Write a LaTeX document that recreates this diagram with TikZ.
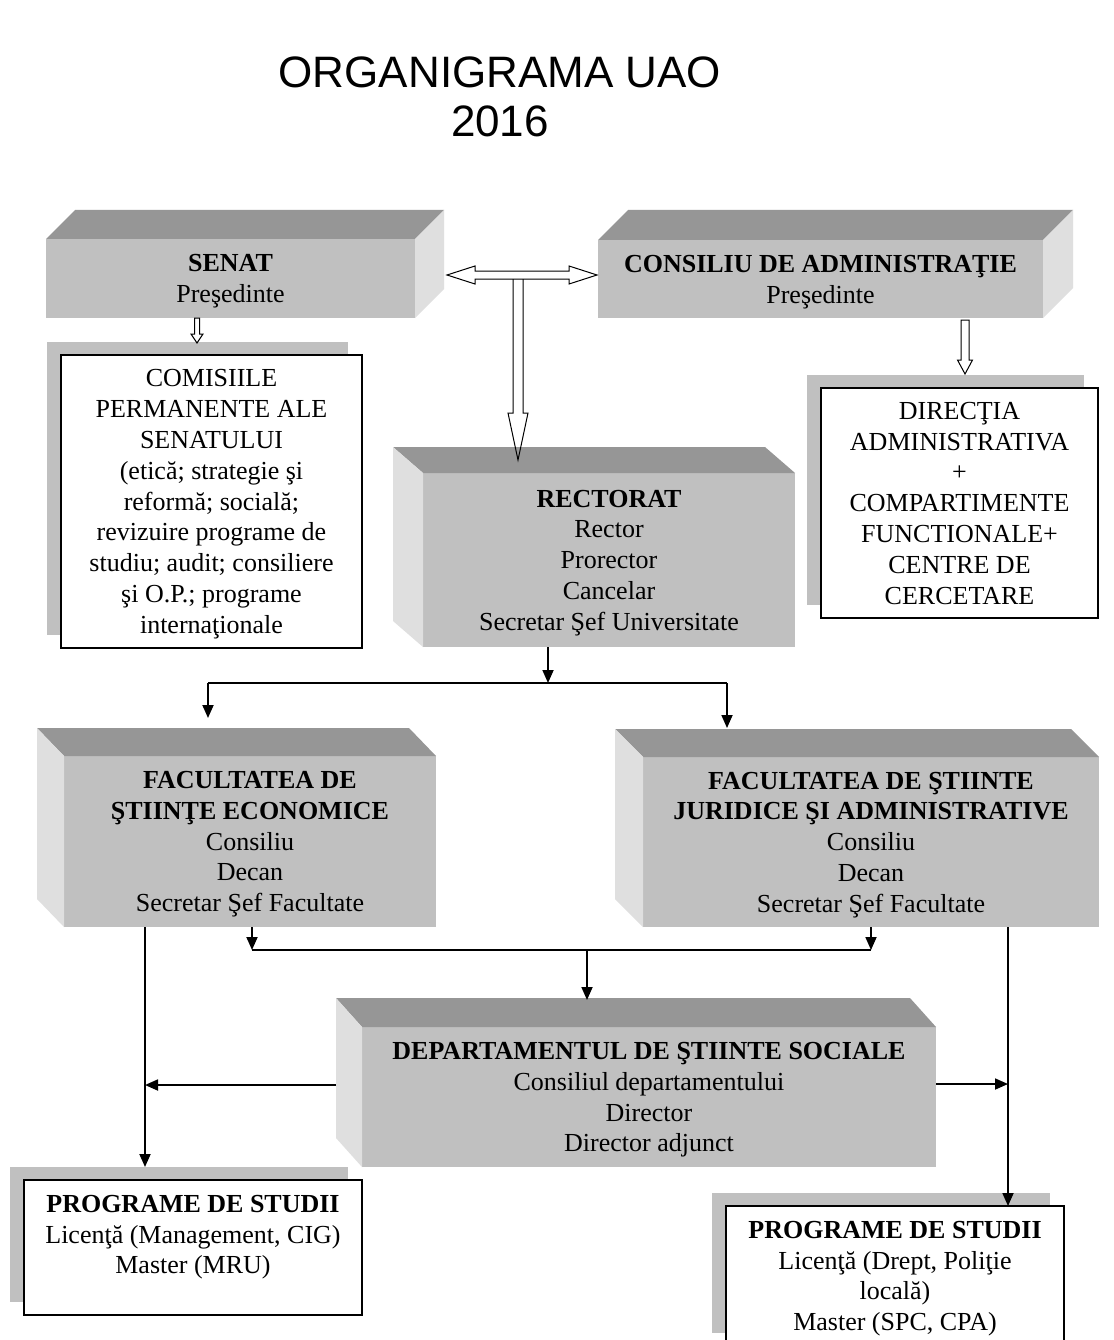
\documentclass[tikz,border=0pt]{standalone}
\usepackage{fontspec}
\setmainfont{Liberation Serif}
\newfontfamily\titlefont{Liberation Sans}
\usetikzlibrary{arrows.meta,calc,shadows}
\definecolor{frontc}{RGB}{192,192,192}
\definecolor{topc}{RGB}{150,150,150}
\definecolor{sidec}{RGB}{223,223,223}
\definecolor{shadc}{RGB}{192,192,192}
\newcommand\cubeR[3]{%
  \fill[topc] (#1.north west) -- ++(#2,#3) -- ([shift={(#2,#3)}]#1.north east) -- (#1.north east) -- cycle;
  \fill[sidec] (#1.north east) -- ++(#2,#3) -- ([shift={(#2,#3)}]#1.south east) -- (#1.south east) -- cycle;}
\newcommand\cubeL[3]{%
  \fill[topc] (#1.north east) -- ++(#2,#3) -- ([shift={(#2,#3)}]#1.north west) -- (#1.north west) -- cycle;
  \fill[sidec] (#1.north west) -- ++(#2,#3) -- ([shift={(#2,#3)}]#1.south west) -- (#1.south west) -- cycle;}
\newcommand\hollowdown[6]{%
  \draw[hollow] ({#1-#4},#2) -- ({#1-#4},{#3-#6}) -- ({#1-#5},{#3-#6}) -- (#1,#3) -- ({#1+#5},{#3-#6}) -- ({#1+#4},{#3-#6}) -- ({#1+#4},#2) -- cycle;}
\begin{document}
\begin{tikzpicture}[x=1pt,y=-1pt,
  txt/.style={inner sep=0pt, outer sep=0pt, align=center, font=\fontsize{26}{30.8}\selectfont},
  front/.style={txt, fill=frontc, text depth=0pt},
  whitebox/.style={txt, draw=black, line width=1.6pt, fill=white, text depth=0pt,
    general shadow={fill=shadc, shadow xshift=-14pt, shadow yshift=13pt}},
  conn/.style={draw=black, line width=1.8pt},
  arr/.style={-{Triangle[length=13pt,width=11pt]}},
  hollow/.style={draw=black, fill=white, line width=1pt, line join=miter}]
\useasboundingbox (0,0) rectangle (1113,1340);
\clip (0,0) rectangle (1113,1340);
\fill[white] (0,0) rectangle (1113,1340);

% title
\node[anchor=base, inner sep=0pt, font=\titlefont\fontsize{44}{49}\selectfont] (title1) at (500,88) {ORGANIGRAMA UAO};
\node[anchor=base, inner sep=0pt, font=\titlefont\fontsize{44}{49}\selectfont] (title2) at (500,137) {2016};

% 3D boxes (front faces)
\node[front, minimum width=369pt, minimum height=79pt] (senat) at (230.5,278.5) {\textbf{SENAT}\\Preşedinte};
\node[front, minimum width=445pt, minimum height=78pt] (cons) at (820.5,279) {\textbf{CONSILIU DE ADMINISTRAŢIE}\\Preşedinte};
\node[front, minimum width=372pt, minimum height=174pt] (rect) at (609,560) {\textbf{RECTORAT}\\Rector\\Prorector\\Cancelar\\Secretar Şef Universitate};
\node[front, minimum width=372pt, minimum height=171pt] (fe) at (250,841.5) {\textbf{FACULTATEA DE}\\\textbf{ŞTIINŢE ECONOMICE}\\Consiliu\\Decan\\Secretar Şef Facultate};
\node[front, minimum width=456pt, minimum height=170pt] (fj) at (871,842) {\textbf{FACULTATEA DE ŞTIINTE}\\\textbf{JURIDICE ŞI ADMINISTRATIVE}\\Consiliu\\Decan\\Secretar Şef Facultate};
\node[front, minimum width=574pt, minimum height=140pt] (dep) at (649,1097) {\textbf{DEPARTAMENTUL DE ŞTIINTE SOCIALE}\\Consiliul departamentului\\Director\\Director adjunct};

\cubeR{senat}{29}{-29}
\cubeR{cons}{30}{-30}
\cubeL{rect}{-30}{-26}
\cubeL{fe}{-27}{-28}
\cubeL{fj}{-28}{-28}
\cubeL{dep}{-26}{-29}

% white boxes with shadow
\node[whitebox, minimum width=301pt, minimum height=293pt] (com) at (211.5,501.5) {COMISIILE\\PERMANENTE ALE\\SENATULUI\\(etică; strategie şi\\reformă; socială;\\revizuire programe de\\studiu; audit; consiliere\\şi O.P.; programe\\internaţionale};
\node[whitebox, minimum width=277pt, minimum height=230pt] (dir) at (959.5,503) {DIRECŢIA\\ADMINISTRATIVA\\+\\COMPARTIMENTE\\FUNCTIONALE+\\CENTRE DE\\CERCETARE};
\node[whitebox, minimum width=338pt, minimum height=135pt] (progl) at (193,1247.5) {};
\node[txt, anchor=north] (progltxt) at ([yshift=-15pt]progl.north) {\textbf{PROGRAME DE STUDII}\\Licenţă (Management, CIG)\\Master (MRU)};
\node[whitebox, minimum width=338pt, minimum height=140pt] (progr) at (895,1276) {};
\node[txt, anchor=north] (progrtxt) at ([yshift=-15pt]progr.north) {\textbf{PROGRAME DE STUDII}\\Licenţă (Drept, Poliţie\\locală)\\Master (SPC, CPA)};

% hollow arrows
\hollowdown{197}{318}{343}{2.5}{6}{9}
\hollowdown{965}{320}{374}{4}{7.5}{14}
\draw[hollow] (447,275) -- (475,266) -- (475,271) -- (569,271) -- (569,266) -- (597,275) -- (569,284) -- (569,279) -- (475,279) -- (475,284) -- cycle;
\fill[white] (513.5,279.6) rectangle (522.5,414);
\draw[hollow, fill=none] (513,279) -- (513,413) -- (508,413) -- (518,460) -- (528,413) -- (523,413) -- (523,279);

% connectors
\coordinate (bA) at (548,683);
\coordinate (bAl) at (208,683);
\coordinate (bAr) at (727,683);
\draw[conn,arr] (rect.south -| bA) -- (bA);
\draw[conn] (bAl) -- (bAr);
\draw[conn,arr] (bAl) -- ++(0,35);
\draw[conn,arr] (bAr) -- ++(0,45);

\coordinate (bBl) at (252,950);
\coordinate (bBr) at (871,950);
\coordinate (bB) at (587,950);
\draw[conn,arr] (fe.south -| bBl) -- (bBl);
\draw[conn,arr] (fj.south -| bBr) -- (bBr);
\draw[conn] (bBl) -- (bBr);
\draw[conn,arr] (bB) -- ++(0,50);

\coordinate (tl) at (145,1085);
\coordinate (tr) at (1008,1084);
\draw[conn,arr] (tl |- fe.south) -- (tl |- 0,1167);
\draw[conn,arr] ([xshift=-26pt,yshift=12pt]dep.west) -- (tl);
\draw[conn,arr] (tr |- fj.south) -- (tr |- progr.north);
\draw[conn,arr] ([yshift=13pt]dep.east) -- (tr);
\end{tikzpicture}
\end{document}
